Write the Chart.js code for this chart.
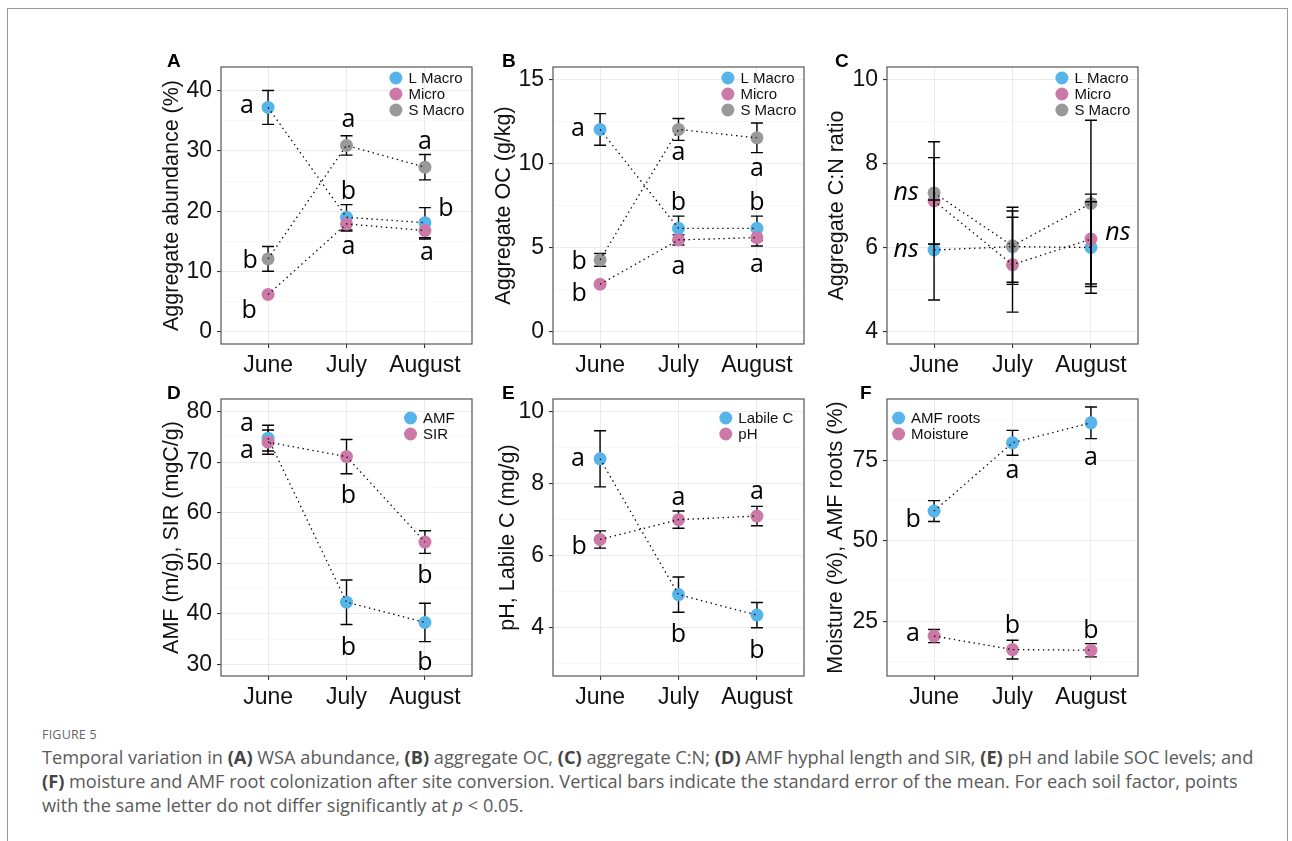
<!DOCTYPE html>
<html>
<head>
<meta charset="utf-8">
<script src="https://cdn.jsdelivr.net/npm/chart.js@4.4.1/dist/chart.umd.min.js"></script>
<style>
body{margin:0;background:#fff;width:1292px;height:841px;position:relative;overflow:hidden;font-family:"Liberation Sans",Arial,sans-serif;}
#frame{position:absolute;left:7px;top:8px;width:1281px;height:900px;border:1px solid #999;box-sizing:border-box;}
canvas{position:absolute;}
.tag{position:absolute;font:bold 19px "Liberation Sans";line-height:19px;color:#000;}
#figno{position:absolute;left:42px;top:728px;font:12.5px "Open Sans";line-height:14px;color:#666;letter-spacing:0.2px;}
#caption{position:absolute;left:42px;top:745px;font:18.2px "Open Sans";line-height:24px;color:#5a5a5a;white-space:nowrap;}
#caption b{color:#444;}
</style>
</head>
<body>
<div id="frame"></div>

<canvas id="cA" width="330" height="340" style="left:150px;top:45px"></canvas>
<canvas id="cB" width="330" height="340" style="left:482px;top:45px"></canvas>
<canvas id="cC" width="330" height="340" style="left:816px;top:45px"></canvas>
<canvas id="cD" width="330" height="340" style="left:150px;top:377px"></canvas>
<canvas id="cE" width="330" height="340" style="left:482px;top:377px"></canvas>
<canvas id="cF" width="330" height="340" style="left:816px;top:377px"></canvas>

<div class="tag" style="left:167px;top:51px">A</div>
<div class="tag" style="left:502px;top:51px">B</div>
<div class="tag" style="left:835px;top:51px">C</div>
<div class="tag" style="left:167px;top:383px">D</div>
<div class="tag" style="left:502px;top:383px">E</div>
<div class="tag" style="left:860px;top:383px">F</div>

<div id="figno">FIGURE 5</div>
<div id="caption">Temporal variation in <b>(A)</b> WSA abundance, <b>(B)</b> aggregate OC, <b>(C)</b> aggregate C:N; <b>(D)</b> AMF hyphal length and SIR, <b>(E)</b> pH and labile SOC levels; and<br><b>(F)</b> moisture and AMF root colonization after site conversion. Vertical bars indicate the standard error of the mean. For each soil factor, points<br>with the same letter do not differ significantly at <i>p</i> &lt; 0.05.</div>

<script>
const months = ["June", "July", "August"];

// A - aggregate abundance (%)
const wsaLMacro = [37.2, 19.0, 18.1];
const wsaLMacroSE = [2.8, 2.1, 2.5];
const wsaMicro = [6.2, 17.9, 16.8];
const wsaMicroSE = [0.3, 1.2, 1.4];
const wsaSMacro = [12.1, 30.9, 27.3];
const wsaSMacroSE = [2.05, 1.6, 2.1];
const wsaLMacroLet = ["a", "b", "b"];
const wsaMicroLet = ["b", "a", "a"];
const wsaSMacroLet = ["b", "a", "a"];

// B - aggregate OC (g/kg)
const ocLMacro = [12.03, 6.14, 6.14];
const ocLMacroSE = [0.94, 0.73, 0.73];
const ocMicro = [2.81, 5.45, 5.59];
const ocMicroSE = [0.12, 0.3, 0.5];
const ocSMacro = [4.26, 12.03, 11.53];
const ocSMacroSE = [0.38, 0.65, 0.88];
const ocLMacroLet = ["a", "b", "b"];
const ocMicroLet = ["b", "a", "a"];
const ocSMacroLet = ["b", "a", "a"];

// C - aggregate C:N ratio
const cnLMacro = [5.94, 6.02, 6.0];
const cnLMacroSE = [1.19, 0.85, 1.09];
const cnMicro = [7.11, 5.59, 6.2];
const cnMicroSE = [1.03, 1.13, 1.07];
const cnSMacro = [7.30, 6.04, 7.05];
const cnSMacroSE = [1.22, 0.92, 1.98];
const cnLMacroLet = ["ns", "", ""];
const cnMicroLet = ["", "", "ns"];
const cnSMacroLet = ["ns", "", ""];

// D - AMF hyphae and SIR
const amfHyphae = [74.75, 42.3, 38.3];
const amfHyphaeSE = [2.55, 4.4, 3.8];
const sir = [73.96, 71.1, 54.2];
const sirSE = [2.4, 3.4, 2.25];
const amfHyphaeLet = ["a", "b", "b"];
const sirLet = ["a", "b", "b"];

// E - labile C and pH
const labileC = [8.69, 4.92, 4.35];
const labileCSE = [0.78, 0.49, 0.35];
const soilPH = [6.45, 7.0, 7.1];
const soilPHSE = [0.24, 0.24, 0.27];
const labileCLet = ["a", "b", "b"];
const soilPHLet = ["b", "a", "a"];

// F - AMF roots and moisture
const amfRoots = [59.2, 80.4, 86.6];
const amfRootsSE = [3.25, 3.85, 4.9];
const moisture = [20.4, 16.2, 16.0];
const moistureSE = [2.05, 2.9, 2.05];
const amfRootsLet = ["b", "a", "a"];
const moistureLet = ["a", "b", "b"];

// y ticks
const ticksA = [0, 10, 20, 30, 40],  minorA = [5, 15, 25, 35];
const ticksB = [0, 5, 10, 15],       minorB = [2.5, 7.5, 12.5];
const ticksC = [4, 6, 8, 10],        minorC = [5, 7, 9];
const ticksD = [30, 40, 50, 60, 70, 80], minorD = [35, 45, 55, 65, 75];
const ticksE = [4, 6, 8, 10],        minorE = [3, 5, 7, 9];
const ticksF = [25, 50, 75],         minorF = [12.5, 37.5, 62.5, 87.5];

const BLUE = "#56B4E9", PINK = "#CC79A7", GREY = "#999999";

const panels = [
    { id: "cA", title: "Aggregate abundance (%)", yMin: -2, yMax: 43.9, majors: ticksA, minors: minorA, titlePad: 9, legX: 0.82, bars: "under",
      series: [
        { label: "L Macro", color: BLUE, values: wsaLMacro, se: wsaLMacroSE, letters: wsaLMacroLet, offs: [[-21, -1], [2, -28], [21, -16]] },
        { label: "Micro", color: PINK, values: wsaMicro, se: wsaMicroSE, letters: wsaMicroLet, offs: [[-19, 14], [2, 23], [2, 22]] },
        { label: "S Macro", color: GREY, values: wsaSMacro, se: wsaSMacroSE, letters: wsaSMacroLet, offs: [[-18, 0], [2, -25], [0, -25]] }
      ] },
    { id: "cB", title: "Aggregate OC (g/kg)", yMin: -0.75, yMax: 15.75, majors: ticksB, minors: minorB, titlePad: 9, legX: 0.82, bars: "under",
      series: [
        { label: "L Macro", color: BLUE, values: ocLMacro, se: ocLMacroSE, letters: ocLMacroLet, offs: [[-22, 0], [0, -28], [0, -28]] },
        { label: "Micro", color: PINK, values: ocMicro, se: ocMicroSE, letters: ocMicroLet, offs: [[-21, 7], [0, 27], [0, 27]] },
        { label: "S Macro", color: GREY, values: ocSMacro, se: ocSMacroSE, letters: ocSMacroLet, offs: [[-21, 0], [0, 24], [0, 31]] }
      ] },
    { id: "cC", title: "Aggregate C:N ratio", yMin: 3.7, yMax: 10.3, majors: ticksC, minors: minorC, titlePad: 8, legX: 0.82, bars: "over",
      series: [
        { label: "L Macro", color: BLUE, values: cnLMacro, se: cnLMacroSE, letters: cnLMacroLet, offs: [[-28, 0], [0, 0], [0, 0]] },
        { label: "Micro", color: PINK, values: cnMicro, se: cnMicroSE, letters: cnMicroLet, offs: [[0, 0], [0, 0], [27, -6]] },
        { label: "S Macro", color: GREY, values: cnSMacro, se: cnSMacroSE, letters: cnSMacroLet, offs: [[-28, 0], [0, 0], [0, 0]] }
      ] },
    { id: "cD", title: "AMF (m/g), SIR (mgC/g)", yMin: 27.7, yMax: 82.5, majors: ticksD, minors: minorD, titlePad: 9.5, legX: 0.83, bars: "under",
      series: [
        { label: "AMF", color: BLUE, values: amfHyphae, se: amfHyphaeSE, letters: amfHyphaeLet, offs: [[-21, -14], [2, 43], [0, 38]] },
        { label: "SIR", color: PINK, values: sir, se: sirSE, letters: sirLet, offs: [[-21, 9], [2, 37], [0, 31]] }
      ] },
    { id: "cE", title: "pH, Labile C (mg/g)", yMin: 2.66, yMax: 10.35, majors: ticksE, minors: minorE, titlePad: 13, legX: 0.81, bars: "under",
      series: [
        { label: "Labile C", color: BLUE, values: labileC, se: labileCSE, letters: labileCLet, offs: [[-22, 0], [0, 38], [0, 33]] },
        { label: "pH", color: PINK, values: soilPH, se: soilPHSE, letters: soilPHLet, offs: [[-21, 5], [0, -22], [0, -24]] }
      ] },
    { id: "cF", title: "Moisture (%), AMF roots (%)", yMin: 8, yMax: 94, majors: ticksF, minors: minorF, titlePad: 7, legX: 0.196, bars: "under",
      series: [
        { label: "AMF roots", color: BLUE, values: amfRoots, se: amfRootsSE, letters: amfRootsLet, offs: [[-21, 6], [0, 28], [0, 35]] },
        { label: "Moisture", color: PINK, values: moisture, se: moistureSE, letters: moistureLet, offs: [[-21, -2], [0, -26], [0, -22]] }
      ] }
];

/* ERROR BARS */
function drawBars(chart){
    const ctx = chart.ctx, y = chart.scales.y;
    ctx.save();
    ctx.strokeStyle = "#000";
    ctx.lineWidth = 1.4;
    chart.data.datasets.forEach((ds, i) => {
        if(!ds.se) return;
        chart.getDatasetMeta(i).data.forEach((pt, j) => {
            const v = ds.data[j].y, e = ds.se[j];
            const top = y.getPixelForValue(v + e), bot = y.getPixelForValue(v - e);
            ctx.beginPath();
            ctx.moveTo(pt.x, top); ctx.lineTo(pt.x, bot);
            ctx.moveTo(pt.x - 6, top); ctx.lineTo(pt.x + 6, top);
            ctx.moveTo(pt.x - 6, bot); ctx.lineTo(pt.x + 6, bot);
            ctx.stroke();
        });
    });
    ctx.restore();
}

const errorBars = {
    id: "errorBars",
    beforeDatasetsDraw(chart, args, opts){ if(opts.mode === "under") drawBars(chart); },
    afterDatasetsDraw(chart, args, opts){ if(opts.mode === "over") drawBars(chart); }
};

/* SIGNIFICANCE LETTERS */
const letters = {
    id: "letters",
    afterDatasetsDraw(chart){
        const ctx = chart.ctx;
        ctx.save();
        ctx.fillStyle = "#000";
        ctx.textAlign = "center";
        ctx.textBaseline = "alphabetic";
        chart.data.datasets.forEach((ds, i) => {
            if(!ds.letters) return;
            chart.getDatasetMeta(i).data.forEach((pt, j) => {
                const t = ds.letters[j];
                if(!t) return;
                ctx.font = (t === "ns" ? "italic " : "") + "25px 'Open Sans'";
                const m = ctx.measureText(t);
                const cx = pt.x + ds.offs[j][0], cy = pt.y + ds.offs[j][1];
                ctx.fillText(t, cx, cy + (m.actualBoundingBoxAscent - m.actualBoundingBoxDescent) / 2);
            });
        });
        ctx.restore();
    }
};

/* LEGEND INSIDE PANEL */
const insideLegend = {
    id: "insideLegend",
    afterDraw(chart, args, opts){
        const ctx = chart.ctx, a = chart.chartArea;
        const items = chart.data.datasets.filter(d => d.label);
        ctx.save();
        ctx.font = "15px 'Liberation Sans'";
        const tw = Math.max(...items.map(d => ctx.measureText(d.label).width));
        const w = 19 + tw, h = items.length * 16;
        const x0 = a.left + opts.cx * (a.right - a.left) - w / 2;
        const y0 = a.top + 27 - h / 2;
        items.forEach((d, k) => {
            const yy = y0 + 8 + k * 16;
            ctx.fillStyle = d.backgroundColor;
            ctx.beginPath();
            ctx.arc(x0 + 6.5, yy, 6.5, 0, Math.PI * 2);
            ctx.fill();
            ctx.fillStyle = "#111";
            ctx.textBaseline = "middle";
            ctx.fillText(d.label, x0 + 19, yy + 0.5);
        });
        ctx.restore();
    }
};

/* PANEL BORDER */
const panelBorder = {
    id: "panelBorder",
    afterDraw(chart){
        const ctx = chart.ctx, a = chart.chartArea;
        ctx.save();
        ctx.strokeStyle = "#555";
        ctx.lineWidth = 1.2;
        ctx.strokeRect(a.left, a.top, a.right - a.left, a.bottom - a.top);
        ctx.restore();
    }
};

function isMajor(p, v){
    return p.majors.some(m => Math.abs(m - v) < 1e-9);
}

function makePanel(p){

    let datasets = [];

    // dotted connecting lines
    p.series.forEach(s => {
        datasets.push({
            type: "line",
            data: s.values.map((v, j) => ({x: j + 1, y: v})),
            borderColor: "#000",
            borderWidth: 1.3,
            borderDash: [1.4, 3.6],
            pointRadius: 0,
            fill: false,
            tension: 0,
            order: 0
        });
    });

    // points (later series drawn on top)
    p.series.forEach((s, i) => {
        datasets.push({
            type: "scatter",
            label: s.label,
            data: s.values.map((v, j) => ({x: j + 1, y: v})),
            backgroundColor: s.color,
            borderWidth: 0,
            pointRadius: 6.5,
            pointHoverRadius: 6.5,
            se: s.se,
            letters: s.letters,
            offs: s.offs,
            order: 10 - i
        });
    });

    new Chart(document.getElementById(p.id), {
        data: { datasets: datasets },
        options: {
            responsive: false,
            animation: false,
            events: [],
            layout: { padding: { left: 0, right: 8, top: 22, bottom: 0 } },
            plugins: {
                legend: { display: false },
                tooltip: { enabled: false },
                errorBars: { mode: p.bars },
                insideLegend: { cx: p.legX }
            },
            scales: {
                x: {
                    type: "linear",
                    min: 0.4,
                    max: 3.6,
                    afterBuildTicks: s => { s.ticks = [1, 2, 3].map(v => ({value: v})); },
                    afterFit: s => { s.height = 41; },
                    ticks: {
                        callback: v => months[v - 1],
                        font: { family: "Liberation Sans", size: 23 },
                        color: "#111",
                        padding: 4,
                        maxRotation: 0,
                        autoSkip: false
                    },
                    grid: { color: "#EBEBEB", lineWidth: 1.1, tickLength: 4, tickColor: "#333", tickWidth: 1.1 },
                    border: { display: false }
                },
                y: {
                    type: "linear",
                    min: p.yMin,
                    max: p.yMax,
                    afterBuildTicks: s => {
                        s.ticks = p.majors.concat(p.minors).sort((a, b) => a - b).map(v => ({value: v}));
                    },
                    afterFit: s => { s.width = 71; },
                    ticks: {
                        callback: v => isMajor(p, v) ? String(v) : "",
                        font: { family: "Liberation Sans", size: 23 },
                        color: "#111",
                        padding: 5,
                        autoSkip: false
                    },
                    grid: {
                        color: c => isMajor(p, c.tick.value) ? "#EBEBEB" : "#F3F3F3",
                        lineWidth: c => isMajor(p, c.tick.value) ? 1.1 : 0.6,
                        tickLength: 4,
                        tickWidth: 1.1,
                        tickColor: c => isMajor(p, c.tick.value) ? "#333" : "rgba(0,0,0,0)"
                    },
                    border: { display: false },
                    title: {
                        display: true,
                        text: p.title,
                        font: { family: "Liberation Sans", size: 21.5 },
                        color: "#111",
                        padding: { top: p.titlePad, bottom: 0 }
                    }
                }
            }
        },
        plugins: [errorBars, letters, insideLegend, panelBorder]
    });
}

panels.forEach(makePanel);
</script>
</body>
</html>
